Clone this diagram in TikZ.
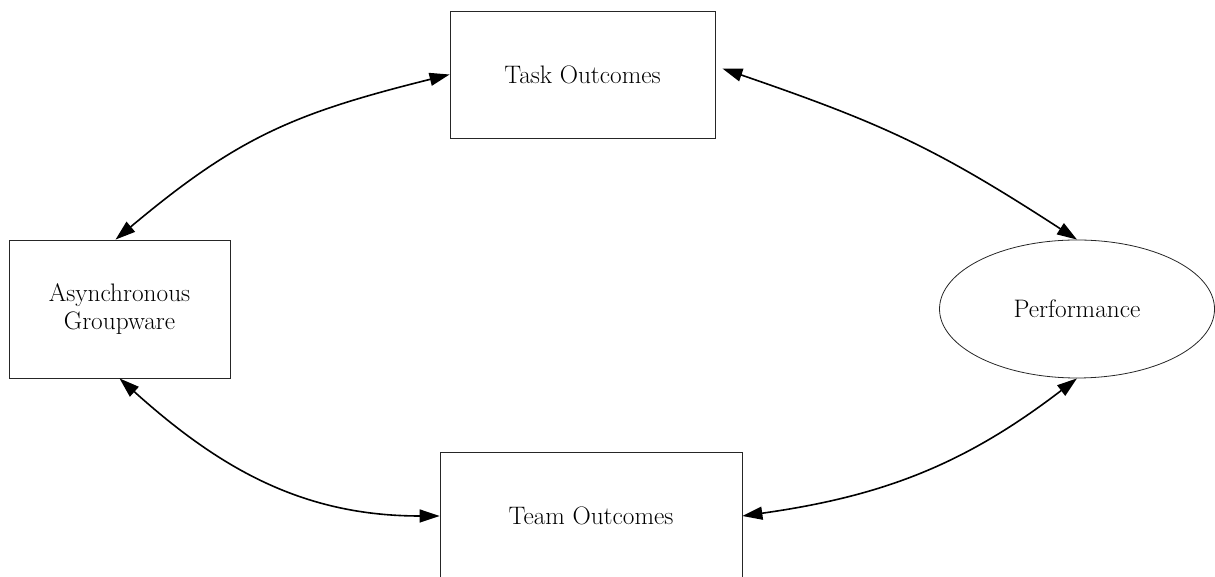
\documentclass[tikz,border=0pt]{standalone}
\usetikzlibrary{arrows.meta,shapes.geometric}
\begin{document}
\begin{tikzpicture}[x=1pt,y=1pt,
  box/.style={draw=black!85,line width=0.8pt,rectangle,align=center,font=\fontsize{25.3}{28}\selectfont},
  oval/.style={draw=black!85,line width=0.8pt,ellipse,inner sep=0pt,font=\fontsize{25.3}{28}\selectfont},
  biarrow/.style={line width=1.6pt,{Triangle[length=20pt,width=13pt]}-{Triangle[length=20pt,width=13pt]}}]
\useasboundingbox (0,0) rectangle (1215,577);
\begin{scope}
\clip (0,0) rectangle (1215,577);
\node[box,minimum width=265pt,minimum height=127pt] (task) at (582.5,502.5) {Task Outcomes};
\node[box,minimum width=221pt,minimum height=138pt] (async) at (119.5,268) {Asynchronous\\Groupware};
\node[oval,minimum width=275pt,minimum height=138pt] (perf) at (1077,268) {Performance};
\node[box,minimum width=302pt,minimum height=128pt] (team) at (591,61) {Team Outcomes};
\draw[biarrow] (task.west) to[out=194,in=40,looseness=1.1] ([xshift=-4pt]async.north);
\draw[biarrow] ([shift={(7pt,6pt)}]task.east) to[out=-19,in=147,looseness=1.1] (perf.north);
\draw[biarrow] (perf.south) to[out=217.5,in=8] (team.east);
\draw[biarrow] (async.south) to[out=-42,in=180] (team.west);
\end{scope}
\end{tikzpicture}
\end{document}
